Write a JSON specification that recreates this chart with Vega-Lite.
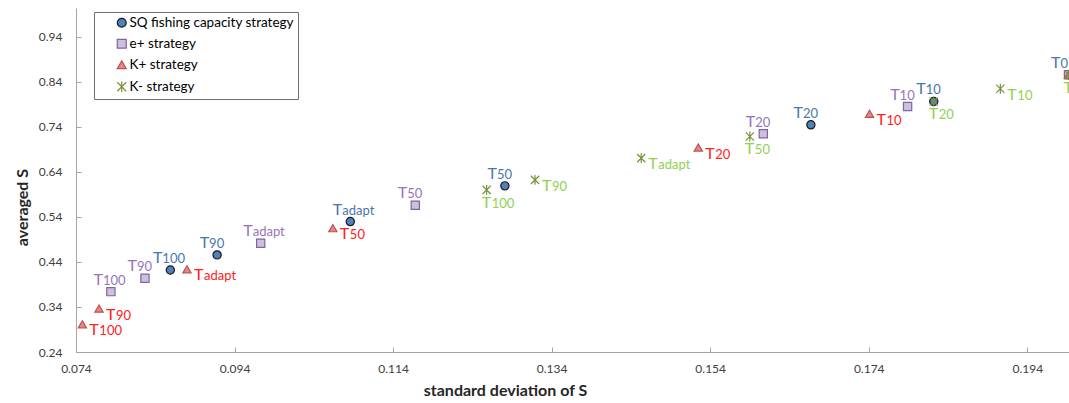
{
  "$schema": "https://vega.github.io/schema/vega-lite/v6.json",
  "width": 993,
  "height": 344,
  "autosize": {"type": "none"},
  "padding": {"left": 76, "top": 8, "right": 0, "bottom": 51},
  "background": "white",
  "config": {"view": {"stroke": null}, "font": "Lato"},
  "data": {
    "values": [
      {"series": "SQ fishing capacity strategy", "label": "100", "sd": 0.0859, "avg": 0.422},
      {"series": "SQ fishing capacity strategy", "label": "90", "sd": 0.0918, "avg": 0.4556},
      {"series": "SQ fishing capacity strategy", "label": "adapt", "sd": 0.1086, "avg": 0.5296},
      {"series": "SQ fishing capacity strategy", "label": "50", "sd": 0.1281, "avg": 0.6089},
      {"series": "SQ fishing capacity strategy", "label": "20", "sd": 0.1667, "avg": 0.7444},
      {"series": "SQ fishing capacity strategy", "label": "10", "sd": 0.1822, "avg": 0.7962},
      {"series": "SQ fishing capacity strategy", "label": "0", "sd": 0.1992, "avg": 0.8556},
      {"series": "e+ strategy", "label": "100", "sd": 0.0784, "avg": 0.374},
      {"series": "e+ strategy", "label": "90", "sd": 0.0827, "avg": 0.4037},
      {"series": "e+ strategy", "label": "adapt", "sd": 0.0973, "avg": 0.4815},
      {"series": "e+ strategy", "label": "50", "sd": 0.1168, "avg": 0.566},
      {"series": "e+ strategy", "label": "20", "sd": 0.1607, "avg": 0.7244},
      {"series": "e+ strategy", "label": "10", "sd": 0.1789, "avg": 0.785},
      {"series": "e+ strategy", "label": "0", "sd": 0.1992, "avg": 0.8556},
      {"series": "K+ strategy", "label": "100", "sd": 0.0748, "avg": 0.3016},
      {"series": "K+ strategy", "label": "90", "sd": 0.0769, "avg": 0.3363},
      {"series": "K+ strategy", "label": "adapt", "sd": 0.088, "avg": 0.4237},
      {"series": "K+ strategy", "label": "50", "sd": 0.1064, "avg": 0.5149},
      {"series": "K+ strategy", "label": "20", "sd": 0.1525, "avg": 0.694},
      {"series": "K+ strategy", "label": "10", "sd": 0.1741, "avg": 0.7689},
      {"series": "K+ strategy", "label": "0", "sd": 0.1992, "avg": 0.8556},
      {"series": "K- strategy", "label": "100", "sd": 0.1258, "avg": 0.6},
      {"series": "K- strategy", "label": "90", "sd": 0.1319, "avg": 0.6222},
      {"series": "K- strategy", "label": "adapt", "sd": 0.1453, "avg": 0.6704},
      {"series": "K- strategy", "label": "50", "sd": 0.159, "avg": 0.7185},
      {"series": "K- strategy", "label": "20", "sd": 0.1822, "avg": 0.7962},
      {"series": "K- strategy", "label": "10", "sd": 0.1906, "avg": 0.8244},
      {"series": "K- strategy", "label": "0", "sd": 0.1992, "avg": 0.8556}
    ]
  },
  "encoding": {
    "x": {
      "field": "sd", "type": "quantitative",
      "scale": {"domain": [0.074, 0.19926], "nice": false, "zero": false},
      "axis": {
        "title": "standard deviation of S",
        "values": [0.074, 0.094, 0.114, 0.134, 0.154, 0.174, 0.194],
        "format": ".3f", "grid": false, "labelFlush": false, "labelOverlap": false,
        "domainColor": "#a6a6a6", "tickColor": "#a6a6a6", "tickSize": -5, "labelPadding": 16,
        "labelFont": "Lato", "labelFontSize": 12, "labelColor": "#404040",
        "titleFont": "Lato", "titleFontSize": 16, "titleFontWeight": "bold", "titleColor": "#262626",
        "titleX": 429, "titleY": 38, "titleBaseline": "middle", "titleAlign": "center"
      }
    },
    "y": {
      "field": "avg", "type": "quantitative",
      "scale": {"domain": [0.24, 1.0038], "nice": false, "zero": false},
      "axis": {
        "title": "averaged S",
        "values": [0.24, 0.34, 0.44, 0.54, 0.64, 0.74, 0.84, 0.94],
        "format": ".2f", "grid": false, "labelFlush": false, "labelOverlap": false,
        "domainColor": "#a6a6a6", "tickColor": "#a6a6a6", "tickSize": -5, "labelPadding": 19,
        "labelFont": "Lato", "labelFontSize": 12, "labelColor": "#404040",
        "titleFont": "Lato", "titleFontSize": 16, "titleFontWeight": "bold", "titleColor": "#262626",
        "titleX": -54, "titleY": 199, "titleBaseline": "middle", "titleAlign": "center", "titleAngle": -90
      }
    }
  },
  "layer": [
    {
      "mark": {"type": "point", "filled": true, "size": 68, "strokeWidth": 1.2, "opacity": 1},
      "encoding": {
        "fill": {
          "field": "series", "type": "nominal",
          "scale": {"domain": ["SQ fishing capacity strategy", "e+ strategy", "K+ strategy", "K- strategy"], "range": ["#4f81bd", "#ccc0da", "#e0898a", "#77933c"]},
          "legend": {
            "title": null, "orient": "none", "legendX": 18, "legendY": 4,
            "strokeColor": "#707070", "fillColor": "white", "padding": 4, "symbolOffset": 17,
            "labelFont": "Lato", "labelFontSize": 13.5, "labelColor": "#000000", "labelLimit": 400,
            "symbolSize": 80, "symbolStrokeWidth": 1.2, "rowPadding": 6, "labelOffset": 1
          }
        },
        "stroke": {
          "field": "series", "type": "nominal",
          "scale": {"domain": ["SQ fishing capacity strategy", "e+ strategy", "K+ strategy", "K- strategy"], "range": ["#1a1a1a", "#8064a2", "#c0504d", "#77933c"]},
          "legend": {
            "title": null, "orient": "none", "legendX": 18, "legendY": 4,
            "strokeColor": "#707070", "fillColor": "white", "padding": 4, "symbolOffset": 17,
            "labelFont": "Lato", "labelFontSize": 13.5, "labelColor": "#000000", "labelLimit": 400,
            "symbolSize": 80, "symbolStrokeWidth": 1.2, "rowPadding": 6, "labelOffset": 1
          }
        },
        "shape": {
          "field": "series", "type": "nominal",
          "scale": {"domain": ["SQ fishing capacity strategy", "e+ strategy", "K+ strategy", "K- strategy"], "range": ["circle", "square", "triangle-up", "M-1,-1L1,1M-1,1L1,-1M0,-1.2L0,1.2"]},
          "legend": {
            "title": null, "orient": "none", "legendX": 18, "legendY": 4,
            "strokeColor": "#707070", "fillColor": "white", "padding": 4, "symbolOffset": 17,
            "labelFont": "Lato", "labelFontSize": 13.5, "labelColor": "#000000", "labelLimit": 400,
            "symbolSize": 80, "symbolStrokeWidth": 1.2, "rowPadding": 6, "labelOffset": 1
          }
        }
      }
    },
    {
      "transform": [{"filter": "datum.series === 'SQ fishing capacity strategy' || (datum.series === 'e+ strategy' && datum.label !== '0')"}],
      "mark": {"type": "text", "text": "T", "align": "right", "baseline": "alphabetic", "dx": -8, "dy": -7, "fontSize": 16, "font": "Lato"},
      "encoding": {
        "color": {"field": "series", "type": "nominal", "scale": {"domain": ["SQ fishing capacity strategy", "e+ strategy", "K+ strategy", "K- strategy"], "range": ["#4a76ad", "#9575b9", "#ff2020", "#92d050"]}, "legend": null}
      }
    },
    {
      "transform": [{"filter": "datum.series === 'SQ fishing capacity strategy' || (datum.series === 'e+ strategy' && datum.label !== '0')"}],
      "mark": {"type": "text", "align": "left", "baseline": "alphabetic", "dx": -8, "dy": -7, "fontSize": 13, "font": "Lato"},
      "encoding": {
        "text": {"field": "label", "type": "nominal"},
        "color": {"field": "series", "type": "nominal", "scale": {"domain": ["SQ fishing capacity strategy", "e+ strategy", "K+ strategy", "K- strategy"], "range": ["#4a76ad", "#9575b9", "#ff2020", "#92d050"]}, "legend": null}
      }
    },
    {
      "transform": [{"filter": "(datum.series === 'K+ strategy' && datum.label !== '0') || (datum.series === 'K- strategy' && indexof(['90', 'adapt', '10'], datum.label) >= 0)"}],
      "mark": {"type": "text", "text": "T", "align": "left", "baseline": "alphabetic", "dx": 7, "dy": 11, "fontSize": 16, "font": "Lato"},
      "encoding": {
        "color": {"field": "series", "type": "nominal", "scale": {"domain": ["SQ fishing capacity strategy", "e+ strategy", "K+ strategy", "K- strategy"], "range": ["#4a76ad", "#9575b9", "#ff2020", "#92d050"]}, "legend": null}
      }
    },
    {
      "transform": [{"filter": "(datum.series === 'K+ strategy' && datum.label !== '0') || (datum.series === 'K- strategy' && indexof(['90', 'adapt', '10'], datum.label) >= 0)"}],
      "mark": {"type": "text", "align": "left", "baseline": "alphabetic", "dx": 17, "dy": 11, "fontSize": 13, "font": "Lato"},
      "encoding": {
        "text": {"field": "label", "type": "nominal"},
        "color": {"field": "series", "type": "nominal", "scale": {"domain": ["SQ fishing capacity strategy", "e+ strategy", "K+ strategy", "K- strategy"], "range": ["#4a76ad", "#9575b9", "#ff2020", "#92d050"]}, "legend": null}
      }
    },
    {
      "transform": [{"filter": "datum.series === 'K- strategy' && indexof(['100', '50', '20', '0'], datum.label) >= 0"}],
      "mark": {"type": "text", "text": "T", "align": "left", "baseline": "alphabetic", "dx": -5, "dy": 18, "fontSize": 16, "font": "Lato"},
      "encoding": {
        "color": {"field": "series", "type": "nominal", "scale": {"domain": ["SQ fishing capacity strategy", "e+ strategy", "K+ strategy", "K- strategy"], "range": ["#4a76ad", "#9575b9", "#ff2020", "#92d050"]}, "legend": null}
      }
    },
    {
      "transform": [{"filter": "datum.series === 'K- strategy' && indexof(['100', '50', '20', '0'], datum.label) >= 0"}],
      "mark": {"type": "text", "align": "left", "baseline": "alphabetic", "dx": 5, "dy": 18, "fontSize": 13, "font": "Lato"},
      "encoding": {
        "text": {"field": "label", "type": "nominal"},
        "color": {"field": "series", "type": "nominal", "scale": {"domain": ["SQ fishing capacity strategy", "e+ strategy", "K+ strategy", "K- strategy"], "range": ["#4a76ad", "#9575b9", "#ff2020", "#92d050"]}, "legend": null}
      }
    }
  ]
}
